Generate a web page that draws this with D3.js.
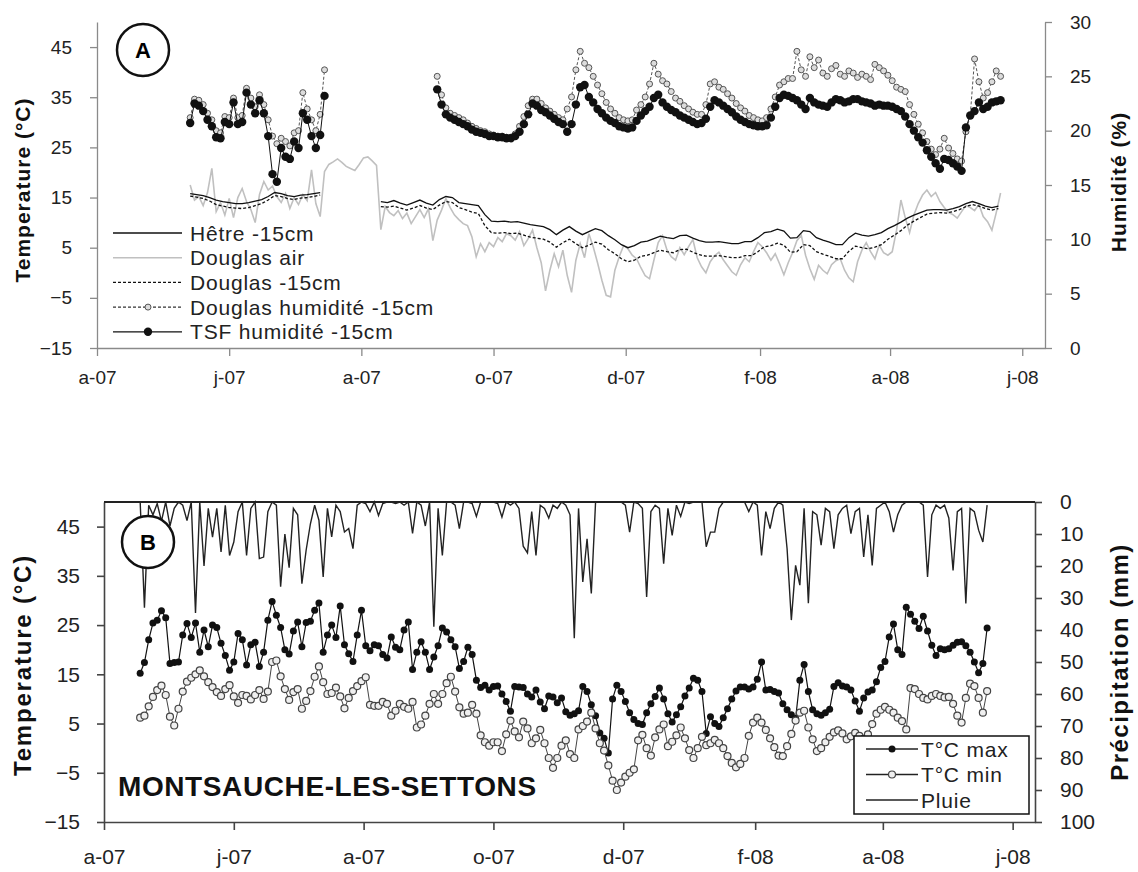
<!DOCTYPE html>
<html>
<head>
<meta charset="utf-8">
<script src="https://cdnjs.cloudflare.com/ajax/libs/d3/7.8.5/d3.min.js"></script>
<style>
body { margin: 0; background: #fff; }
text { font-family: Arial, "Liberation Sans", sans-serif; }
</style>
</head>
<body>
<div id="chart"></div>
<script>
// shared x axis
var tickDates = ["2007-04-01", "2007-06-01", "2007-08-01", "2007-10-01", "2007-12-01", "2008-02-01", "2008-04-01", "2008-06-01"];
var tickLabels = ["a-07", "j-07", "a-07", "o-07", "d-07", "f-08", "a-08", "j-08"];
var tempTicks = [-15, -5, 5, 15, 25, 35, 45];
var humTicks = [0, 5, 10, 15, 20, 25, 30];
var rainTicks = [0, 10, 20, 30, 40, 50, 60, 70, 80, 90, 100];

// panel A : soil temperature (every 3 days)
var hetre1 = [15.8, 15.6, 15.4, 15.0, 14.5, 14.2, 14.0, 13.8, 13.8, 14.0, 14.3, 14.6, 15.2, 16.0, 15.8, 15.4, 15.2, 15.5, 15.6, 15.8, 16.0];
var hetre2 = [14.2, 14.0, 14.4, 13.9, 13.5, 14.0, 14.5, 13.9, 13.5, 14.6,
  15.2, 15.0, 14.0, 13.8, 13.6, 13.4, 11.6, 10.3, 10.2, 10.3,
  10.1, 10.2, 9.9, 9.6, 9.4, 9.2, 8.6, 7.6, 8.5, 9.2,
  8.3, 7.6, 8.2, 8.8, 8.4, 7.4, 6.6, 5.6, 5.0, 5.4,
  6.1, 6.3, 6.8, 7.3, 7.0, 6.8, 7.4, 7.5, 6.9, 6.4,
  6.1, 6.1, 6.2, 6.0, 5.8, 5.8, 6.2, 6.2, 7.0, 8.0,
  8.2, 8.7, 8.3, 6.9, 7.0, 8.4, 8.2, 7.0, 6.5, 6.1,
  5.6, 5.6, 7.0, 7.9, 7.5, 7.3, 7.6, 8.0, 8.8, 9.4,
  10.1, 10.9, 11.5, 12.0, 12.5, 12.6, 12.6, 12.5, 12.8, 13.2,
  13.8, 14.2, 13.8, 13.3, 13.0, 13.3];
var douglas1 = [15.3, 15.1, 14.8, 14.3, 13.6, 13.3, 13.0, 12.9, 12.8, 13.0, 13.4, 13.8, 14.5, 15.4, 15.2, 14.8, 14.6, 14.9, 15.0, 15.2, 15.5];
var douglas2 = [13.2, 13.1, 13.3, 12.9, 12.5, 12.9, 13.4, 12.9, 12.6, 13.5,
  14.2, 14.0, 13.0, 12.6, 12.1, 11.8, 9.4, 8.0, 7.9, 8.0,
  7.8, 7.9, 7.5, 7.1, 6.9, 6.7, 6.1, 5.1, 6.0, 6.7,
  5.8, 5.0, 5.5, 6.1, 5.7, 4.6, 3.8, 2.8, 2.2, 2.5,
  3.3, 3.5, 4.0, 4.5, 4.2, 4.0, 4.6, 4.7, 4.1, 3.6,
  3.3, 3.3, 3.4, 3.2, 3.0, 3.0, 3.4, 3.4, 4.2, 5.2,
  5.4, 5.9, 5.5, 4.1, 4.2, 5.6, 5.4, 4.2, 3.7, 3.3,
  2.8, 2.8, 4.3, 5.3, 5.0, 4.8, 5.1, 5.6, 6.7, 7.5,
  8.4, 9.5, 10.3, 11.0, 11.7, 11.9, 12.0, 11.9, 12.2, 12.6,
  13.2, 13.6, 13.3, 12.8, 12.5, 12.8];
// air temperature (every 2 days)
var douglasAir = [17.5, 14.5, 15.2, 13.4, 16.0, 20.8, 12.2, 14.0, 11.5, 14.8,
  11.0, 15.0, 16.8, 14.2, 12.6, 10.0, 15.6, 18.2, 16.5, 17.3,
  15.2, 14.0, 15.8, 12.8, 15.0, 13.6, 15.6, 14.4, 20.5, 13.8,
  11.2, 20.2, 21.6, 22.1, 22.7, 22.0, 21.2, 20.8, 20.4, 21.6,
  22.9, 23.1, 22.3, 21.4, 8.6, 13.2, 12.0, 11.4, 12.4, 10.8,
  11.9, 9.8, 11.2, 12.6, 11.0, 12.8, 6.4, 10.5, 12.5, 14.8,
  13.0, 11.5, 10.6, 9.8, 9.4, 7.2, 3.2, 5.8, 4.2, 6.0,
  5.2, 7.0, 6.2, 7.8, 7.4, 6.5, 8.2, 5.4, 6.8, 8.5,
  5.0, 2.0, -3.6, 0.5, 3.8, 1.2, 4.5, -0.5, -3.9, 2.5,
  5.8, 3.0, 7.8, 5.2, 2.0, -1.5, -4.5, -4.8, 0.5, 3.2,
  5.4, 4.8, 3.5, 2.8, 1.0, -0.6, -1.2, 2.5, 6.0, 7.4,
  4.6, 3.2, 2.5, 5.0, 3.6, 5.2, 6.6, 3.0, 1.2, 0.0,
  2.2, 3.4, 4.1, 2.6, 1.4, 0.2, -0.5, 1.6, 3.0, 2.2,
  4.2, 6.0, 5.2, 4.0, 2.5, 3.8, 1.8, -0.4, 2.0, 4.0,
  6.4, 7.5, 3.5, 0.8, -1.3, 1.5, 0.5, -0.2, 1.6, 2.4,
  2.8, 0.5, -1.0, -1.8, 2.2, 4.5, 6.0, 4.2, 2.8, 5.5,
  4.0, 3.5, 4.2, 8.5, 14.5, 11.0, 8.0, 11.5, 13.8, 15.5,
  16.5, 15.2, 16.0, 14.2, 13.0, 12.0, 11.6, 10.9, 12.2, 13.4,
  13.0, 12.4, 13.6, 11.2, 10.2, 8.5, 12.0, 15.9];
// soil humidity (every 2 days)
var tsfHum1 = [20.7, 22.5, 22.3, 21.8, 21.0, 20.4, 19.4, 19.3, 20.8, 20.6,
  22.6, 20.6, 20.8, 23.5, 22.4, 21.6, 22.8, 21.6, 19.5, 16.0,
  15.3, 18.4, 17.6, 17.4, 19.0, 18.4, 21.6, 21.0, 19.5, 18.4,
  19.6, 23.2];
var douglasHum1 = [21.2, 22.9, 22.8, 22.4, 21.6, 21.0, 20.0, 19.8, 21.3, 21.2,
  23.0, 21.2, 21.4, 23.9, 23.0, 22.2, 23.3, 22.4, 21.0, 19.5,
  18.8, 19.3, 19.0, 18.6, 19.8, 20.0, 23.5, 22.0, 21.0, 20.0,
  21.5, 25.6];
var tsfHum2 = [23.8, 22.4, 21.5, 21.2, 21.0, 20.8, 20.6, 20.4, 20.1, 19.9,
  19.8, 19.7, 19.5, 19.5, 19.4, 19.4, 19.3, 19.3, 19.5, 19.9,
  20.6, 21.5, 22.5, 22.3, 21.9, 21.7, 21.4, 21.1, 20.8, 20.6,
  19.9, 20.6, 22.4, 24.0, 24.2, 23.1, 22.6, 22.0, 21.6, 21.2,
  20.9, 20.7, 20.4, 20.3, 20.2, 20.3, 20.9, 21.4, 21.8, 22.2,
  23.0, 23.3, 22.6, 22.2, 21.9, 21.7, 21.4, 21.2, 21.0, 20.8,
  20.6, 20.7, 21.1, 22.2, 22.8, 22.6, 22.3, 22.0, 21.7, 21.3,
  21.0, 20.8, 20.6, 20.5, 20.4, 20.4, 20.5, 21.2, 22.2, 23.0,
  23.3, 23.2, 23.0, 22.8, 22.4, 22.0, 23.0, 22.6, 22.4, 22.3,
  22.2, 22.6, 22.9, 22.8, 22.6, 22.7, 22.9, 22.9, 22.7, 22.6,
  22.5, 22.3, 22.4, 22.3, 22.3, 22.2, 22.0, 21.8, 21.3, 20.6,
  20.0, 19.4, 18.9, 18.2, 17.6, 17.0, 16.5, 17.4, 17.3, 17.0,
  16.7, 16.3, 20.3, 21.4, 21.8, 22.6, 22.0, 22.2, 22.6, 22.7,
  22.8];
var douglasHum2 = [25.0, 23.3, 22.1, 21.6, 21.4, 21.2, 21.0, 20.7, 20.4, 20.2,
  20.0, 19.9, 19.7, 19.6, 19.5, 19.5, 19.4, 19.4, 19.7, 20.4,
  21.3, 22.3, 22.9, 22.9, 22.5, 22.1, 21.8, 21.5, 21.2, 21.0,
  22.0, 23.1, 25.6, 27.3, 26.2, 25.8, 25.0, 24.2, 23.4, 22.6,
  22.0, 21.6, 21.2, 21.0, 20.9, 21.0, 21.9, 22.4, 23.1, 24.3,
  26.2, 25.2, 24.6, 24.3, 23.6, 23.0, 22.7, 22.3, 22.0, 21.7,
  21.5, 21.5, 22.4, 24.3, 24.5, 24.0, 23.8, 23.4, 23.0, 22.5,
  22.1, 21.8, 21.4, 21.2, 21.0, 20.9, 21.2, 22.0, 23.1, 24.2,
  24.5, 24.8, 24.8, 27.3, 25.6, 25.0, 26.8, 25.8, 26.5, 25.3,
  25.0, 25.7, 26.0, 25.2, 25.0, 25.5, 25.3, 24.9, 25.2, 25.0,
  24.7, 26.1, 25.8, 25.5, 25.1, 24.6, 24.0, 23.8, 23.6, 22.4,
  21.5, 20.6, 19.8, 19.0, 18.3, 17.8, 18.3, 19.3, 18.4, 17.9,
  17.4, 17.2, 19.9, 21.4, 26.6, 24.5, 23.0, 23.5, 24.5, 25.5,
  25.0];

// panel B : Montsauche station (every 2 days from 18 April 2007)
var tMax = [15.2, 17.4, 22.0, 25.4, 26.0, 27.9, 26.5, 17.2, 17.4, 17.5,
  23.0, 25.3, 22.5, 25.4, 19.5, 24.0, 20.6, 25.0, 24.5, 21.3,
  18.8, 15.8, 17.5, 23.3, 22.0, 16.9, 21.0, 21.5, 16.6, 19.5,
  26.0, 29.8, 27.0, 24.5, 20.0, 19.1, 23.8, 25.6, 20.6, 25.5,
  25.8, 28.0, 29.5, 19.5, 23.0, 25.0, 22.5, 28.9, 21.0, 19.2,
  17.6, 23.0, 28.0, 20.8, 19.8, 21.0, 20.8, 19.0, 18.3, 22.6,
  20.5, 20.0, 24.0, 25.6, 16.0, 19.5, 21.6, 19.5, 16.0, 18.5,
  20.8, 24.4, 23.6, 22.0, 20.6, 16.2, 17.6, 20.5, 19.0, 13.8,
  12.3, 12.8, 11.8, 12.5, 12.6, 11.0, 9.5, 7.5, 12.5, 12.4,
  12.3, 11.0, 10.4, 11.8, 9.4, 8.0, 10.6, 10.4, 9.2, 10.2,
  7.4, 6.7, 7.0, 7.6, 12.5, 11.5, 8.8, 6.6, 3.1, 2.0,
  -1.0, 10.0, 12.8, 11.5, 9.5, 7.2, 5.8, 5.0, 4.8, 7.2,
  9.0, 10.5, 12.2, 10.0, 7.0, 5.3, 6.8, 8.4, 10.6, 12.2,
  14.2, 13.8, 11.5, 3.0, 6.4, 5.0, 4.4, 6.2, 8.0, 10.0,
  11.6, 12.4, 12.4, 12.0, 12.4, 14.0, 17.5, 11.8, 11.9, 11.5,
  11.2, 9.0, 7.8, 6.8, 6.0, 13.8, 17.0, 11.5, 7.8, 7.0,
  6.7, 7.2, 7.9, 12.5, 13.3, 12.6, 12.4, 11.8, 9.6, 7.5,
  10.2, 11.4, 11.8, 13.5, 16.4, 17.6, 22.6, 25.2, 20.0, 19.0,
  28.6, 27.2, 25.8, 24.3, 26.8, 23.8, 20.9, 18.8, 20.2, 20.0,
  20.2, 20.9, 21.5, 21.6, 20.8, 19.5, 17.5, 15.3, 17.2, 24.4];
var tMin = [6.2, 6.6, 8.5, 10.4, 11.8, 12.7, 10.8, 6.4, 4.6, 8.0,
  11.5, 13.5, 14.3, 15.0, 15.8, 14.6, 13.4, 12.4, 11.4, 10.6,
  12.0, 12.8, 10.5, 9.2, 10.8, 10.6, 9.9, 10.8, 11.8, 10.0,
  11.5, 17.5, 17.8, 14.6, 12.0, 9.8, 11.4, 12.0, 8.0, 9.6,
  11.6, 14.5, 16.6, 13.4, 11.0, 11.2, 12.3, 10.5, 8.1, 10.2,
  11.6, 12.6, 13.6, 14.4, 8.8, 8.6, 8.6, 9.4, 9.0, 6.6,
  7.6, 9.0, 8.4, 8.0, 9.4, 4.2, 4.8, 6.6, 9.0, 11.0,
  9.0, 11.0, 13.2, 14.5, 11.5, 8.3, 7.0, 7.2, 8.8, 7.0,
  2.6, 1.2, 0.5, 1.2, 1.2, -0.6, 2.8, 5.6, 3.4, 2.2,
  5.4, 4.0, 1.0, 2.0, 3.7, 1.0, -2.0, -4.0, -2.0, 0.5,
  1.6, -1.2, -2.0, 3.8, 4.5, 5.4, 7.2, 4.0, 1.0, -0.5,
  -3.5, -6.6, -8.5, -7.0, -5.8, -5.0, -4.3, 1.6, 2.7, 0.0,
  -1.5, 2.2, 3.8, 4.8, 0.4, 1.3, 2.6, 4.2, 2.0, -0.4,
  -2.0, 0.0, 2.3, 0.6, 1.0, 1.7, 1.0, 0.0, -1.6, -3.0,
  -3.9, -3.2, -2.0, 2.5, 5.2, 6.2, 5.2, 3.7, 2.0, 0.2,
  -1.5, -1.6, 0.4, 2.9, 5.6, 7.2, 7.6, 4.2, 1.8, -0.6,
  0.0, 1.2, 2.3, 3.2, 3.6, 3.0, 1.8, 2.4, 3.1, 2.5,
  1.9, 2.8, 4.9, 7.0, 7.8, 8.4, 7.8, 7.2, 6.2, 5.5,
  3.8, 12.2, 12.0, 11.0, 10.2, 9.9, 10.6, 11.0, 10.6, 10.3,
  10.4, 9.0, 6.6, 5.2, 10.2, 13.1, 12.6, 10.2, 7.2, 11.6];
var pluie = [0, 33, 1, 4, 0.5, 6, 0, 7.5, 2, 0,
  1, 5.8, 0, 34.7, 0, 20, 2, 11, 2, 15.6,
  1, 16.7, 12.5, 3, 0, 16.7, 2, 0, 17.7, 17.2,
  3, 0, 1, 26.5, 10, 20.5, 2, 4, 25.5, 15,
  6.8, 1, 5.7, 23.4, 2, 10.9, 1, 3, 9.4, 8.3,
  14.6, 1, 0, 0.5, 3, 0, 4.2, 0.5, 0, 0,
  0.5, 0, 1, 0, 9.8, 0, 1, 7.5, 0, 39,
  2, 16.7, 0, 0, 1, 8.3, 0, 0, 0.5, 4.5,
  0, 0, 0, 0, 0.5, 4.7, 0, 1, 0, 2,
  13.8, 15.9, 3, 16.7, 1, 2, 5, 1, 2, 0,
  1, 4, 42.6, 2, 25, 11.5, 28.6, 0, 0, 0,
  0, 0, 0, 0, 1, 9.4, 0, 0.5, 2, 29.7,
  3, 1, 2, 19.3, 2, 10.4, 1, 4.5, 0, 0.5,
  0, 0, 0, 14, 9.4, 9.4, 2, 0, 0, 0,
  0, 0, 0, 3, 0, 1, 16.7, 3, 8.3, 2,
  0, 1, 14.6, 36.9, 19.8, 26, 2, 31.6, 3, 4,
  13.5, 2, 3, 14.6, 4, 2, 1, 9.9, 3, 2,
  17.2, 4, 19.8, 2, 1, 0, 3, 9.4, 4, 1,
  0, 0, 0, 0, 1, 23.4, 4, 1, 2, 1,
  5, 21.4, 3, 2, 31.7, 2, 3, 8.8, 12.5, 1];

function series(start, step, values) {
    var t0 = Date.parse(start);
    return values.map(function (v, i) { return { date: new Date(t0 + i * step * 864e5), value: v }; });
}

var svg = d3.select("#chart").append("svg")
    .attr("width", 1138)
    .attr("height", 872);

var dateDomain = [new Date(Date.UTC(2007, 3, 1)), new Date(Date.UTC(2008, 5, 11, 12))];
var ticksX = tickDates.map(function (s) { return new Date(Date.parse(s)); });

function styleAxis(g, color, width, size) {
    g.attr("font-family", null).attr("font-size", null);
    g.selectAll("path, line").attr("stroke", color).attr("stroke-width", width);
    g.selectAll("text").attr("fill", "#222").style("font-size", size + "px");
}

function title(x, y, txt, size, spacing) {
    svg.append("text")
        .attr("transform", "translate(" + x + "," + y + ")rotate(-90)")
        .attr("text-anchor", "middle")
        .style("font-weight", "bold")
        .style("font-size", size + "px")
        .style("letter-spacing", spacing + "px")
        .attr("fill", "#111")
        .text(txt);
}

function badge(cx, cy, letter) {
    svg.append("circle").attr("cx", cx).attr("cy", cy).attr("r", 26)
        .attr("fill", "#fff").attr("stroke", "#111").attr("stroke-width", 2.5);
    svg.append("text").attr("x", cx).attr("y", cy).attr("dy", "0.36em")
        .attr("text-anchor", "middle").style("font-weight", "bold").style("font-size", "22px")
        .text(letter);
}

// ================= Panel A =================
var xA = d3.scaleUtc().domain(dateDomain).range([97, 1045]);
var yA = d3.scaleLinear().domain([-15, 50]).range([348, 22]);
var hA = d3.scaleLinear().domain([0, 30]).range([348, 22]);

var gA = svg.append("g");

gA.append("g")
    .attr("transform", "translate(97,0)")
    .call(d3.axisLeft(yA).tickValues(tempTicks).tickSize(7).tickSizeOuter(0).tickPadding(18))
    .call(styleAxis, "#8a8a8a", 1.3, 19);
gA.append("g")
    .attr("transform", "translate(1045,0)")
    .call(d3.axisRight(hA).tickValues(humTicks).tickSize(7).tickSizeOuter(0).tickPadding(18))
    .call(styleAxis, "#8a8a8a", 1.3, 19);
gA.append("g")
    .attr("transform", "translate(0,348)")
    .call(d3.axisBottom(xA).tickValues(ticksX).tickFormat(function (d, i) { return tickLabels[i]; })
        .tickSize(8).tickSizeOuter(0).tickPadding(15))
    .call(styleAxis, "#8a8a8a", 1.3, 19);

var lineA = d3.line().x(function (d) { return xA(d.date); }).y(function (d) { return yA(d.value); });
var lineH = d3.line().x(function (d) { return xA(d.date); }).y(function (d) { return hA(d.value); });

gA.append("path").datum(series("2007-05-14", 2, douglasAir))
    .attr("d", lineA).attr("fill", "none").attr("stroke", "#c0c0c0").attr("stroke-width", 1.6);

[series("2007-05-14", 3, hetre1), series("2007-08-10", 3, hetre2)].forEach(function (s) {
    gA.append("path").datum(s).attr("d", lineA)
        .attr("fill", "none").attr("stroke", "#111").attr("stroke-width", 1.3);
});
[series("2007-05-14", 3, douglas1), series("2007-08-10", 3, douglas2)].forEach(function (s) {
    gA.append("path").datum(s).attr("d", lineA)
        .attr("fill", "none").attr("stroke", "#111").attr("stroke-width", 1.3).attr("stroke-dasharray", "3,2");
});

// humidity, Douglas first then TSF on top
[series("2007-05-14", 2, douglasHum1), series("2007-09-05", 2, douglasHum2)].forEach(function (s) {
    gA.append("path").datum(s).attr("d", lineH)
        .attr("fill", "none").attr("stroke", "#555").attr("stroke-width", 1).attr("stroke-dasharray", "3,2");
    gA.selectAll("dh").data(s).enter().append("circle")
        .attr("cx", function (d) { return xA(d.date); })
        .attr("cy", function (d) { return hA(d.value); })
        .attr("r", 3).attr("fill", "#dcdcdc").attr("stroke", "#555").attr("stroke-width", 1);
});
[series("2007-05-14", 2, tsfHum1), series("2007-09-05", 2, tsfHum2)].forEach(function (s) {
    gA.append("path").datum(s).attr("d", lineH)
        .attr("fill", "none").attr("stroke", "#111").attr("stroke-width", 1);
    gA.selectAll("th").data(s).enter().append("circle")
        .attr("cx", function (d) { return xA(d.date); })
        .attr("cy", function (d) { return hA(d.value); })
        .attr("r", 4.2).attr("fill", "#111");
});

title(30, 190, "Temperature (°C)", 21, 1);
title(1126, 182, "Humidité (%)", 21, 1);
badge(143, 50, "A");

// legend A
var legA = [
    { name: "Hêtre -15cm", color: "#111", dash: null, mark: null },
    { name: "Douglas air", color: "#c0c0c0", dash: null, mark: null },
    { name: "Douglas -15cm", color: "#111", dash: "3,2", mark: null },
    { name: "Douglas humidité -15cm", color: "#333", dash: "3,2", mark: "open" },
    { name: "TSF humidité -15cm", color: "#111", dash: null, mark: "full" }
];
legA.forEach(function (l, i) {
    var y = 233 + i * 24.7;
    gA.append("line").attr("x1", 113).attr("x2", 182).attr("y1", y).attr("y2", y)
        .attr("stroke", l.color).attr("stroke-width", l.color === "#c0c0c0" ? 1.6 : 1.3)
        .attr("stroke-dasharray", l.dash);
    if (l.mark === "open") {
        gA.append("circle").attr("cx", 148).attr("cy", y).attr("r", 3)
            .attr("fill", "#dcdcdc").attr("stroke", "#555");
    } else if (l.mark === "full") {
        gA.append("circle").attr("cx", 148).attr("cy", y).attr("r", 4.2).attr("fill", "#111");
    }
    gA.append("text").attr("x", 190).attr("y", y).attr("dy", "0.36em")
        .style("font-size", "21px").style("letter-spacing", "0.8px").attr("fill", "#222")
        .text(l.name);
});

// ================= Panel B =================
var xB = d3.scaleUtc().domain(dateDomain).range([104, 1035]);
var yB = d3.scaleLinear().domain([-15, 50]).range([822, 502]);
var rB = d3.scaleLinear().domain([0, 100]).range([502, 822]);

var gB = svg.append("g");

gB.append("g")
    .attr("transform", "translate(104,0)")
    .call(d3.axisLeft(yB).tickValues(tempTicks).tickSize(7).tickSizeOuter(0).tickPadding(17))
    .call(styleAxis, "#444", 1.6, 21);
gB.append("g")
    .attr("transform", "translate(1035,0)")
    .call(d3.axisRight(rB).tickValues(rainTicks).tickSize(7).tickSizeOuter(0).tickPadding(18))
    .call(styleAxis, "#444", 1.6, 21);
gB.append("g")
    .attr("transform", "translate(0,822)")
    .call(d3.axisBottom(xB).tickValues(ticksX).tickFormat(function (d, i) { return tickLabels[i]; })
        .tickSize(8).tickSizeOuter(0).tickPadding(19))
    .call(styleAxis, "#444", 1.6, 21);
gB.append("line").attr("x1", 104).attr("x2", 1035).attr("y1", 502).attr("y2", 502)
    .attr("stroke", "#222").attr("stroke-width", 2);

var lineB = d3.line().x(function (d) { return xB(d.date); }).y(function (d) { return yB(d.value); });
var lineR = d3.line().x(function (d) { return xB(d.date); }).y(function (d) { return rB(d.value); });

var maxData = series("2007-04-18", 2, tMax);
var minData = series("2007-04-18", 2, tMin);
var rainData = series("2007-04-18", 2, pluie);

gB.append("path").datum(maxData).attr("d", lineB)
    .attr("fill", "none").attr("stroke", "#111").attr("stroke-width", 1.2);
gB.selectAll("mx").data(maxData).enter().append("circle")
    .attr("cx", function (d) { return xB(d.date); })
    .attr("cy", function (d) { return yB(d.value); })
    .attr("r", 3.5).attr("fill", "#111");

gB.append("path").datum(minData).attr("d", lineB)
    .attr("fill", "none").attr("stroke", "#444").attr("stroke-width", 1);
gB.selectAll("mn").data(minData).enter().append("circle")
    .attr("cx", function (d) { return xB(d.date); })
    .attr("cy", function (d) { return yB(d.value); })
    .attr("r", 3.5).attr("fill", "#efefef").attr("stroke", "#444").attr("stroke-width", 1.2);

gB.append("path").datum(rainData).attr("d", lineR)
    .attr("fill", "none").attr("stroke", "#222").attr("stroke-width", 1.4);

title(31, 665, "Temperature (°C)", 24, 1.8);
title(1128, 662, "Précipitation (mm)", 24, 1.5);
badge(148, 542, "B");

gB.append("text").attr("x", 118).attr("y", 796)
    .style("font-weight", "bold").style("font-size", "28px").style("letter-spacing", "0.6px")
    .attr("fill", "#111").text("MONTSAUCHE-LES-SETTONS");

// legend B
gB.append("rect").attr("x", 854).attr("y", 736).attr("width", 175).attr("height", 78)
    .attr("fill", "#fff").attr("stroke", "#111").attr("stroke-width", 1.5);
var legB = [
    { name: "T°C max", mark: "full" },
    { name: "T°C min", mark: "open" },
    { name: "Pluie", mark: null }
];
legB.forEach(function (l, i) {
    var y = 749 + i * 25.5;
    gB.append("line").attr("x1", 866).attr("x2", 918).attr("y1", y).attr("y2", y)
        .attr("stroke", "#222").attr("stroke-width", 1.3);
    if (l.mark === "full") {
        gB.append("circle").attr("cx", 892).attr("cy", y).attr("r", 3.5).attr("fill", "#111");
    } else if (l.mark === "open") {
        gB.append("circle").attr("cx", 892).attr("cy", y).attr("r", 3.5)
            .attr("fill", "#efefef").attr("stroke", "#444").attr("stroke-width", 1.2);
    }
    gB.append("text").attr("x", 921).attr("y", y).attr("dy", "0.36em")
        .style("font-size", "21px").style("letter-spacing", "0.8px").attr("fill", "#222")
        .text(l.name);
});
</script>
</body>
</html>
